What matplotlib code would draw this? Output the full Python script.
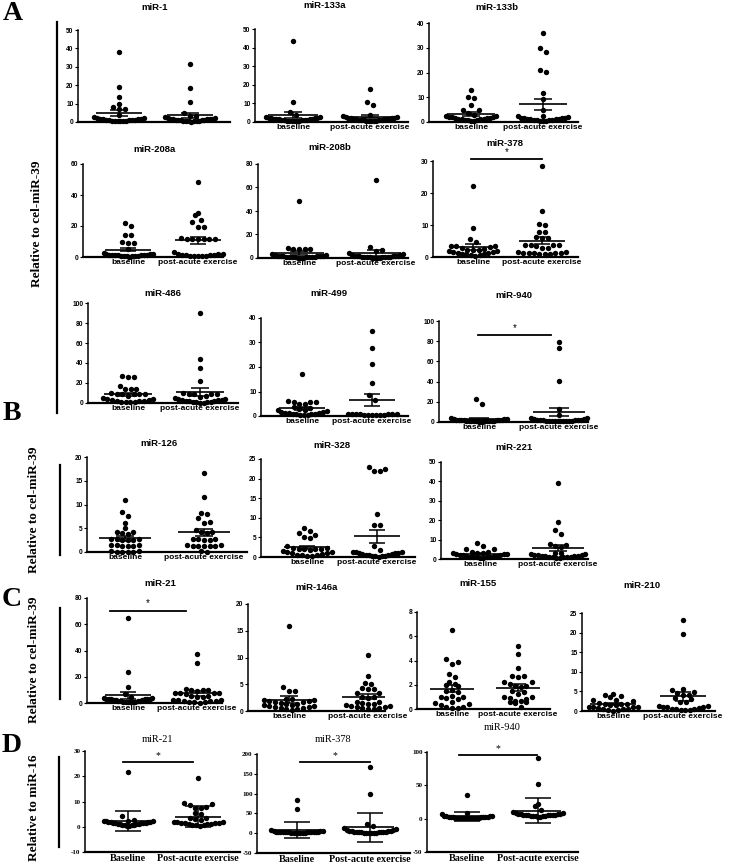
import numpy as np
import matplotlib
matplotlib.use("Agg")
import matplotlib.pyplot as plt
from matplotlib.lines import Line2D

# ---------------- data ----------------
groups_sans = ["baseline", "post-acute exercise"]
groups_serif = ["Baseline", "Post-acute exercise"]

# Panel A
mir1_base = [38.2, 19.1, 13.6, 10.0, 8.2, 6.9, 6.9, 3.6, 2.6, 2.3, 2.0, 1.8, 1.6, 1.5, 1.4, 1.3, 1.2, 1.1, 1.0, 0.9, 0.8, 0.7, 0.6, 0.5, 0.4, 0.3]
mir1_post = [31.5, 18.7, 11.1, 4.9, 3.1, 3.1, 2.7, 2.4, 2.1, 1.9, 1.7, 1.6, 1.5, 1.4, 1.3, 1.2, 1.1, 1.0, 0.9, 0.8, 0.7, 0.6, 0.5, 0.4, 0.3, 0.2]
mir133a_base = [43.5, 10.9, 5.6, 3.8, 2.8, 2.6, 2.4, 2.2, 2.0, 1.9, 1.8, 1.7, 1.6, 1.5, 1.4, 1.3, 1.2, 1.1, 1.0, 0.9, 0.8, 0.7, 0.6, 0.5, 0.4, 0.3]
mir133a_post = [17.6, 10.8, 9.0, 3.6, 3.0, 2.8, 2.6, 2.4, 2.2, 2.0, 1.9, 1.8, 1.7, 1.6, 1.5, 1.4, 1.3, 1.2, 1.1, 1.0, 0.9, 0.8, 0.7, 0.6, 0.5, 0.4]
mir133b_base = [13.0, 10.3, 9.6, 6.9, 4.9, 4.9, 3.5, 2.8, 2.6, 2.4, 2.2, 2.0, 1.9, 1.8, 1.7, 1.5, 1.4, 1.3, 1.2, 1.1, 1.0, 0.9, 0.8, 0.6, 0.5]
mir133b_post = [36.0, 30.1, 28.2, 21.1, 20.1, 11.8, 9.2, 4.9, 2.6, 2.3, 2.0, 1.8, 1.7, 1.6, 1.5, 1.4, 1.3, 1.2, 1.1, 1.0, 0.9, 0.8, 0.7, 0.6, 0.5, 0.4]
mir208a_base = [21.7, 20.0, 14.5, 14.0, 9.5, 9.2, 9.0, 5.0, 2.6, 2.2, 2.0, 1.8, 1.6, 1.5, 1.4, 1.3, 1.2, 1.1, 1.0, 0.9, 0.8, 0.7, 0.6, 0.5, 0.4, 0.3]
mir208a_post = [48.6, 28.2, 27.1, 23.9, 22.8, 19.6, 19.6, 12.0, 11.8, 11.6, 11.5, 11.4, 11.6, 11.8, 3.2, 2.2, 2.0, 1.8, 1.6, 1.4, 1.2, 1.0, 0.9, 0.8, 0.6, 0.5, 0.4]
mir208b_base = [48.6, 8.5, 7.9, 7.6, 7.6, 7.3, 3.0, 2.6, 2.3, 2.0, 1.8, 1.6, 1.5, 1.4, 1.3, 1.2, 1.1, 1.0, 0.9, 0.8, 0.7, 0.6, 0.5, 0.4, 0.3, 0.2]
mir208b_post = [66.7, 9.3, 7.0, 5.6, 4.2, 3.0, 2.6, 2.3, 2.0, 1.8, 1.6, 1.5, 1.4, 1.3, 1.2, 1.1, 1.0, 0.9, 0.8, 0.7, 0.6, 0.5, 0.4, 0.3, 0.2, 0.2]
mir378_base = [22.3, 9.0, 5.5, 4.8, 3.5, 3.4, 3.3, 3.2, 2.8, 2.5, 2.3, 2.2, 2.1, 2.0, 1.8, 1.6, 1.5, 1.3, 1.2, 1.0, 0.9, 0.8, 0.6, 0.5, 0.4]
mir378_post = [28.4, 14.5, 10.3, 10.0, 7.9, 7.9, 6.4, 6.0, 5.8, 3.8, 3.7, 3.7, 3.6, 3.5, 2.8, 2.8, 1.6, 1.5, 1.4, 1.3, 1.3, 1.2, 1.1, 1.0, 0.9, 0.8]
mir486_base = [26.8, 26.0, 25.8, 17.2, 14.2, 13.9, 13.6, 9.5, 9.3, 9.2, 9.0, 8.8, 8.6, 6.6, 5.0, 4.2, 3.8, 3.2, 2.8, 2.4, 2.0, 1.6, 1.2, 1.0, 0.8, 0.5]
mir486_post = [90.0, 44.0, 35.4, 21.5, 9.6, 9.4, 9.3, 9.2, 9.0, 6.6, 5.5, 4.8, 4.2, 3.8, 3.4, 3.0, 2.6, 2.2, 1.8, 1.5, 1.2, 1.0, 0.8, 0.6, 0.4, 0.3]
mir499_base = [17.1, 6.1, 5.9, 5.8, 5.6, 5.0, 4.8, 3.8, 3.4, 3.0, 2.6, 2.3, 2.0, 1.8, 1.6, 1.4, 1.2, 1.1, 1.0, 0.9, 0.8, 0.7, 0.6, 0.5, 0.4]
mir499_post = [34.8, 27.8, 21.3, 13.6, 8.5, 6.5, 1.0, 0.9, 0.9, 0.8, 0.8, 0.7, 0.7, 0.6, 0.6, 0.5, 0.5, 0.4, 0.3]
mir940_base = [22.4, 17.8, 3.5, 3.0, 2.8, 2.5, 2.3, 2.1, 2.0, 1.8, 1.7, 1.6, 1.5, 1.4, 1.3, 1.2, 1.1, 1.0, 0.9, 0.8, 0.7, 0.6, 0.5, 0.4, 0.3]
mir940_post = [79.2, 73.6, 41.0, 12.5, 7.0, 4.0, 3.5, 3.0, 2.7, 2.4, 2.2, 2.0, 1.8, 1.6, 1.5, 1.4, 1.3, 1.2, 1.1, 1.0, 0.9, 0.8, 0.7, 0.6, 0.5]

# Panel B
mir126_base = [11.0, 8.4, 7.5, 6.2, 5.0, 4.3, 4.2, 3.9, 3.8, 2.8, 2.7, 2.7, 2.6, 2.6, 2.5, 1.5, 1.4, 1.4, 1.3, 1.3, 1.2, 0.2, 0.2, 0.1, 0.1, 0.1, 0.1]
mir126_post = [16.6, 11.6, 8.2, 8.1, 7.2, 6.3, 6.2, 4.6, 4.3, 4.2, 3.9, 2.8, 2.7, 2.7, 2.6, 2.6, 1.4, 1.4, 1.3, 1.3, 1.3, 1.2, 1.2, 0.2, 0.1]
mir328_base = [7.3, 6.6, 6.2, 5.7, 5.0, 4.9, 2.8, 2.3, 2.2, 2.1, 2.1, 2.0, 2.0, 1.9, 1.5, 1.3, 1.2, 1.1, 1.0, 0.8, 0.6, 0.5, 0.4, 0.3, 0.2]
mir328_post = [23.0, 22.4, 22.0, 21.9, 11.0, 8.1, 8.1, 2.8, 1.7, 1.4, 1.3, 1.2, 1.1, 1.0, 0.9, 0.8, 0.7, 0.6, 0.5, 0.4, 0.3, 0.3, 0.2, 0.2, 0.1]
mir221_base = [8.0, 6.6, 5.4, 5.3, 3.5, 3.4, 3.3, 3.2, 3.1, 2.6, 2.5, 2.4, 2.3, 2.2, 2.0, 1.8, 1.6, 1.4, 1.2, 1.1, 1.0, 0.9, 0.8, 0.6, 0.5]
mir221_post = [39.0, 18.9, 14.9, 12.8, 7.6, 7.4, 6.7, 6.2, 3.3, 3.2, 2.6, 2.4, 2.2, 2.0, 1.9, 1.8, 1.6, 1.5, 1.4, 1.2, 1.1, 1.0, 0.9, 0.8, 0.6, 0.5]

# Panel C
mir21c_base = [64.5, 23.7, 12.2, 6.6, 4.6, 3.8, 3.5, 3.4, 3.3, 3.2, 3.1, 3.0, 2.8, 2.5, 2.2, 2.0, 1.8, 1.6, 1.4, 1.2, 1.0, 0.9, 0.8, 0.6, 0.5, 0.4]
mir21c_post = [37.2, 30.6, 11.0, 10.2, 9.8, 9.6, 9.4, 8.0, 7.8, 7.6, 7.4, 7.2, 5.2, 5.0, 4.8, 4.6, 2.4, 2.2, 2.0, 1.8, 1.6, 1.2, 1.0, 0.8, 0.5, 0.3]
mir146a_base = [15.9, 4.4, 3.8, 3.7, 2.3, 2.2, 2.1, 2.0, 1.9, 1.8, 1.7, 1.6, 1.5, 1.4, 1.3, 1.2, 1.1, 1.0, 0.9, 0.8, 0.7, 0.6, 0.5, 0.4, 0.3, 0.2]
mir146a_post = [10.4, 6.6, 5.2, 5.1, 4.3, 4.2, 4.1, 3.4, 3.3, 2.7, 2.6, 2.5, 1.7, 1.6, 1.5, 1.4, 1.3, 1.2, 1.0, 0.9, 0.8, 0.7, 0.6, 0.5, 0.4, 0.3]
mir155_base = [6.5, 4.1, 3.9, 3.7, 2.9, 2.6, 2.2, 2.1, 2.0, 1.9, 1.6, 1.5, 1.4, 1.1, 1.0, 1.0, 0.9, 0.8, 0.6, 0.5, 0.4, 0.3, 0.2, 0.2, 0.1, 0.1]
mir155_post = [5.2, 4.5, 3.4, 2.7, 2.7, 2.6, 2.2, 2.2, 2.1, 1.9, 1.9, 1.8, 1.5, 1.4, 1.2, 1.0, 1.0, 0.9, 0.8, 0.7, 0.7, 0.6, 0.6, 0.5, 0.2]
mir210_base = [4.4, 4.0, 3.9, 3.6, 2.9, 2.7, 2.6, 2.0, 1.9, 1.8, 1.7, 1.6, 1.5, 1.1, 1.0, 1.0, 0.9, 0.8, 0.6, 0.5, 0.4, 0.3, 0.2, 0.1]
mir210_post = [23.1, 19.7, 5.5, 5.3, 4.9, 4.6, 4.2, 4.0, 3.3, 3.1, 2.4, 2.2, 1.3, 1.2, 1.1, 1.0, 0.9, 0.8, 0.6, 0.5, 0.4, 0.3, 0.2, 0.2]

# Panel D (relative to miR-16)
mir21d_base = [21.7, 4.4, 2.8, 2.4, 2.3, 2.2, 2.1, 2.0, 1.9, 1.8, 1.7, 1.6, 1.5, 1.5, 1.4, 1.3, 1.2, 1.1, 1.0, 0.9, 0.8, 0.7, 0.6, 0.5, 0.4, 0.3]
mir21d_post = [19.5, 9.3, 9.0, 8.8, 7.7, 7.5, 7.3, 5.3, 5.0, 3.5, 3.3, 3.0, 2.5, 2.0, 1.8, 1.7, 1.6, 1.5, 1.4, 1.3, 1.2, 1.1, 1.0, 0.8, 0.6, 0.5, 0.3]
mir378d_base = [84.0, 62.0, 8.0, 5.5, 5.0, 4.6, 4.2, 4.0, 3.8, 3.6, 3.4, 3.2, 3.0, 2.8, 2.6, 2.4, 2.2, 2.0, 1.8, 1.6, 1.4, 1.2, 1.0, 0.8, 0.6, 0.4]
mir378d_post = [168.0, 100.0, 22.0, 17.0, 13.0, 10.0, 8.0, 7.0, 6.0, 5.5, 5.0, 4.6, 4.2, 3.8, 3.4, 3.0, 2.6, 2.2, 2.0, 1.8, 1.6, 1.4, 1.2, 1.0, 0.8, 0.6]
mir940d_base = [35.0, 8.5, 6.5, 4.5, 4.0, 3.6, 3.3, 3.0, 2.8, 2.6, 2.4, 2.2, 2.0, 1.8, 1.6, 1.5, 1.4, 1.3, 1.2, 1.1, 1.0, 0.9, 0.8, 0.7, 0.6, 0.5]
mir940d_post = [91.5, 52.5, 22.5, 18.5, 12.5, 10.0, 8.5, 8.0, 7.5, 7.0, 6.8, 6.5, 6.2, 6.0, 5.8, 5.5, 5.2, 5.0, 4.8, 4.5, 4.2, 4.0, 3.8, 3.5, 3.2, 3.0]

# y-axis tick values
ticks_0_50_10 = [0, 10, 20, 30, 40, 50]
ticks_0_40_10 = [0, 10, 20, 30, 40]
ticks_0_60_20 = [0, 20, 40, 60]
ticks_0_80_20 = [0, 20, 40, 60, 80]
ticks_0_30_10 = [0, 10, 20, 30]
ticks_0_100_20 = [0, 20, 40, 60, 80, 100]
ticks_0_20_5 = [0, 5, 10, 15, 20]
ticks_0_25_5 = [0, 5, 10, 15, 20, 25]
ticks_0_8_2 = [0, 2, 4, 6, 8]
ticks_m10_30 = [-10, 0, 10, 20, 30]
ticks_m50_200 = [-50, 0, 50, 100, 150, 200]
ticks_m50_100 = [-50, 0, 50, 100]

# (title, baseline, post, y ticks, error type, font style, show x labels)
panels = [
    ("miR-1", mir1_base, mir1_post, ticks_0_50_10, "sem", "sans", False),
    ("miR-133a", mir133a_base, mir133a_post, ticks_0_50_10, "sem", "sans", True),
    ("miR-133b", mir133b_base, mir133b_post, ticks_0_40_10, "sem", "sans", True),
    ("miR-208a", mir208a_base, mir208a_post, ticks_0_60_20, "sem", "sans", True),
    ("miR-208b", mir208b_base, mir208b_post, ticks_0_80_20, "sem", "sans", True),
    ("miR-378", mir378_base, mir378_post, ticks_0_30_10, "sem", "sans", True),
    ("miR-486", mir486_base, mir486_post, ticks_0_100_20, "sem", "sans", True),
    ("miR-499", mir499_base, mir499_post, ticks_0_40_10, "sem", "sans", True),
    ("miR-940", mir940_base, mir940_post, ticks_0_100_20, "sem", "sans", True),
    ("miR-126", mir126_base, mir126_post, ticks_0_20_5, "sem", "sans", True),
    ("miR-328", mir328_base, mir328_post, ticks_0_25_5, "sem", "sans", True),
    ("miR-221", mir221_base, mir221_post, ticks_0_50_10, "sem", "sans", True),
    ("miR-21", mir21c_base, mir21c_post, ticks_0_80_20, "sem", "sans", True),
    ("miR-146a", mir146a_base, mir146a_post, ticks_0_20_5, "sem", "sans", True),
    ("miR-155", mir155_base, mir155_post, ticks_0_8_2, "sem", "sans", True),
    ("miR-210", mir210_base, mir210_post, ticks_0_25_5, "sem", "sans", True),
    ("miR-21", mir21d_base, mir21d_post, ticks_m10_30, "sd", "serif", True),
    ("miR-378", mir378d_base, mir378d_post, ticks_m50_200, "sd", "serif", True),
    ("miR-940", mir940d_base, mir940d_post, ticks_m50_100, "sd", "serif", True),
]

# ---------------- layout (pixels) ----------------
W, H = 735, 865
# axes box: left, right, top, bottom ; group centres c0, c1 ; title x, y
boxes = [
    (78, 230, 30, 122, 119, 190, 155, 7),
    (255, 408, 29, 122, 293, 370, 325, 5),
    (429, 578, 23, 122, 471, 543, 497, 7),
    (83, 223, 164, 257, 128, 198, 154, 149),
    (258, 408, 164, 258, 299, 376, 330, 148),
    (433, 578, 161, 257, 473, 542, 505, 143),
    (88, 238, 303, 403, 128, 200, 163, 293),
    (261, 408, 318, 416, 302, 372, 329, 293),
    (439, 588, 321, 422, 479, 559, 514, 296),
    (87, 247, 457, 552, 125, 204, 159, 443),
    (261, 415, 459, 557, 307, 377, 332, 445),
    (441, 588, 462, 559, 480, 558, 514, 448),
    (87, 222, 598, 703, 128, 197, 160, 584),
    (248, 385, 604, 711, 289, 368, 317, 587),
    (417, 550, 612, 709, 452, 518, 478, 584),
    (582, 715, 613, 711, 613, 683, 642, 586),
    (85, 240, 751, 852, 128, 198, 157, 740),
    (257, 410, 754, 853, 297, 370, 333, 739),
    (427, 578, 752, 852, 467, 538, 502, 727),
]
# significance bars: x0, x1, y, star y, style
sig_bars = [
    (471, 542, 159, 152, "sans"),
    (478, 551, 335, 328, "sans"),
    (110, 186, 611, 603, "sans"),
    (123, 193, 762, 756, "serif"),
    (300, 370, 762, 756, "serif"),
    (459, 537, 755, 749, "serif"),
]

SANS = "Liberation Sans"
SERIF = "Liberation Serif"
DOT_PX = 5.4
DOT_S = (DOT_PX * 0.72) ** 2
SEP_PX = 5.6        # horizontal spacing of dots in a row
ROW_PX = 5.2        # values closer than this (in px) share a row
MAX_HW = 0.35       # max half width of a row, in group units

fig = plt.figure(figsize=(W / 100, H / 100), dpi=100)


def fx(x):
    return x / W


def fy(y):
    return 1 - y / H


def ftext(x, y, s, **kw):
    fig.text(fx(x), fy(y), s, ha="center", va="center", **kw)


def row_offsets(vals, sx, sy):
    v = np.asarray(vals, float)
    order = np.argsort(v, kind="stable")
    xs = np.zeros(len(v))
    rows = []
    cur = [order[0]]
    for i in order[1:]:
        if (v[i] - v[cur[0]]) * sy < ROW_PX:
            cur.append(i)
        else:
            rows.append(cur)
            cur = [i]
    rows.append(cur)
    max_hw_px = MAX_HW * sx
    for rw in rows:
        n = len(rw)
        if n == 1:
            continue
        sp = min(SEP_PX, 2 * max_hw_px / (n - 1))
        if n % 2:
            pos = [0.0] + [s * k * sp for k in range(1, n // 2 + 1) for s in (1, -1)]
        else:
            pos = [s * (k - 0.5) * sp for k in range(1, n // 2 + 1) for s in (1, -1)]
        for idx, p in zip(rw, pos):
            xs[idx] = p
    return xs / sx


for (title, base, post, yt, err, style, showx), box in zip(panels, boxes):
    l, r, t, b, c0, c1, tx, ty = box
    fam = SANS if style == "sans" else SERIF
    ax = fig.add_axes([fx(l), fy(b), (r - l) / W, (b - t) / H])
    unit = c1 - c0
    ax.set_xlim((l - c0) / unit, (r - c0) / unit)
    ylo, yhi = yt[0], yt[-1]
    ax.set_ylim(ylo, yhi)
    sy = (b - t) / (yhi - ylo)
    mean_hw = 0.33
    cap_hw = 0.12 if err == "sem" else 0.18
    for gi, vals in enumerate([base, post]):
        v = np.asarray(vals, float)
        off = row_offsets(v, unit, sy)
        ax.scatter(gi + off, v, s=DOT_S, c="k", linewidths=0, clip_on=False, zorder=3)
        m = v.mean()
        e = v.std(ddof=1)
        if err == "sem":
            e = e / np.sqrt(len(v))
        ax.hlines(m, gi - mean_hw, gi + mean_hw, color="k", lw=1.2, zorder=4)
        ax.vlines(gi, m - e, m + e, color="k", lw=1.1, zorder=4)
        ax.hlines([m - e, m + e], gi - cap_hw, gi + cap_hw, color="k", lw=1.1, zorder=4)
    for sp in ("top", "right"):
        ax.spines[sp].set_visible(False)
    ax.spines["left"].set_linewidth(1.1)
    ax.spines["bottom"].set_linewidth(1.6)
    ax.set_yticks(yt)
    ax.set_yticklabels([str(v) for v in yt], fontfamily=fam, fontweight="bold",
                       fontsize=4.8 if style == "sans" else 5)
    ax.tick_params(axis="y", length=2.2, width=0.8, pad=1)
    ax.set_xticks([0, 1])
    if showx:
        labs = groups_sans if style == "sans" else groups_serif
        ax.set_xticklabels(labs, fontfamily=fam, fontweight="bold",
                           fontsize=6 if style == "sans" else 7.3)
    else:
        ax.set_xticklabels(["", ""])
    ax.tick_params(axis="x", length=0, pad=1.5)
    ax.patch.set_alpha(0)
    if style == "sans":
        ftext(tx, ty, title, fontfamily=SANS, fontweight="bold", fontsize=6.8)
    else:
        ftext(tx, ty, title, fontfamily=SERIF, fontsize=7.5)

for x0, x1, y, sy_, style in sig_bars:
    fig.add_artist(Line2D([fx(x0), fx(x1)], [fy(y), fy(y)], color="k", lw=1.3))
    ftext((x0 + x1) / 2, sy_, "*", fontfamily=SANS if style == "sans" else SERIF,
          fontsize=7, color="k")

# panel brackets, letters and y labels
for x, y0, y1 in [(57, 22, 413), (60, 465, 555), (60, 608, 699), (59, 757, 847)]:
    fig.add_artist(Line2D([fx(x), fx(x)], [fy(y0), fy(y1)], color="k", lw=1.6))
for letter, x, y in [("A", 13, 14), ("B", 12, 414), ("C", 12, 599), ("D", 12, 745)]:
    ftext(x, y, letter, fontfamily=SERIF, fontweight="bold", fontsize=20)
for lab, x, y in [("Relative to cel-miR-39", 37, 224), ("Relative to cel-miR-39", 34, 510),
                  ("Relative to cel-miR-39", 34, 660), ("Relative to miR-16", 34, 808)]:
    ftext(x, y, lab, fontfamily=SERIF, fontweight="bold", fontsize=9.5, rotation=90)

fig.savefig("out.png", dpi=100)
